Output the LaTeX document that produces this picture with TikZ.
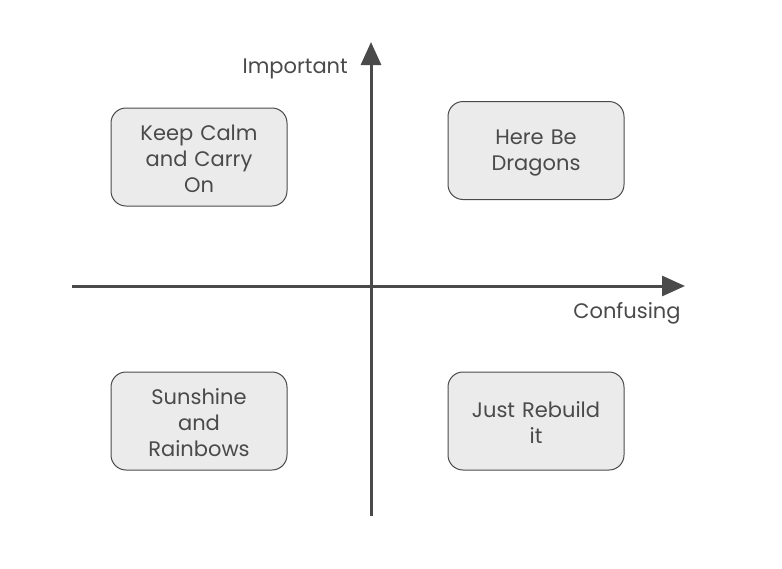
\documentclass[tikz,border=0pt]{standalone}
\usepackage{fontspec}
\setmainfont{Poppins}
\usetikzlibrary{arrows.meta}
\definecolor{ink}{HTML}{4A4A4A}
\definecolor{boxfill}{HTML}{EBEBEB}
\begin{document}
\begin{tikzpicture}[x=1pt,y=-1pt,
  quad/.style={draw=ink,line width=1pt,fill=boxfill,rounded corners=15pt,minimum width=176pt,minimum height=98pt,inner sep=0pt},
  qtext/.style={text width=170pt,align=center,font=\fontsize{21}{26}\selectfont,text=ink,inner sep=0pt},
  axis/.style={draw=ink,line width=3pt,-{Triangle[length=23pt,width=20pt]}},
  lab/.style={font=\fontsize{21}{26}\selectfont,text=ink,inner sep=0pt}]
\useasboundingbox (0,0) rectangle (782,568);
\coordinate (vb) at (371,516);
\coordinate (vt) at (371,42);
\coordinate (hl) at (72,286);
\coordinate (hr) at (685,286);
\draw[axis] (vb) -- (vt);
\draw[axis] (hl) -- (hr);
\node[lab,anchor=east] (imp) at (348,69) {Important};
\node[lab] (conf) at (627,313) {Confusing};
\node[quad] (kc) at (199,157) {};
\node[quad] (hd) at (536,150.5) {};
\node[quad] (sr) at (199,421) {};
\node[quad] (jr) at (536,421) {};
\node[qtext] (kct) at ([yshift=-1.5pt]kc.center) {Keep Calm\\and Carry\\On};
\node[qtext] (hdt) at ([yshift=-3pt]hd.center) {Here Be\\Dragons};
\node[qtext] (srt) at ([yshift=-1.5pt]sr.center) {Sunshine\\and\\Rainbows};
\node[qtext] (jrt) at ([yshift=-1.5pt]jr.center) {Just Rebuild\\it};
\end{tikzpicture}
\end{document}
